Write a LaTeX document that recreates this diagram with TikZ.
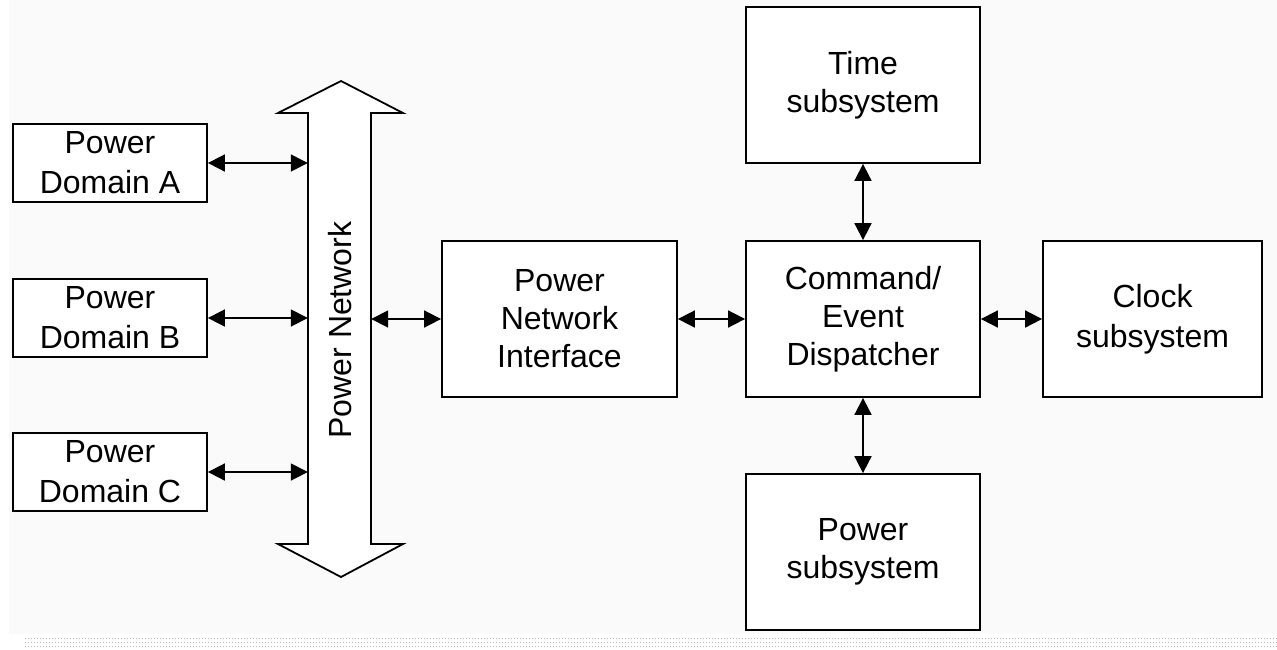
\documentclass[tikz,border=0pt]{standalone}
\usepackage{fontspec}
\setmainfont{Liberation Sans}
\usetikzlibrary{arrows.meta}
\definecolor{panel}{HTML}{FAFAFA}
\begin{document}
\begin{tikzpicture}[x=1pt,y=-1pt,
  block/.style={draw=black,line width=1.8pt,fill=white,rectangle,align=center,
    inner sep=0pt,font=\fontsize{32}{38}\selectfont},
  link/.style={line width=1.8pt,{Triangle[length=17pt,width=17pt]}-{Triangle[length=17pt,width=17pt]}}]
\useasboundingbox (0,0) rectangle (1277,649);
% page background and the dotted strip along the bottom
\fill[white] (0,0) rectangle (1277,649);
\fill[panel] (9,0) rectangle (1277,634);
\foreach \yy in {638,642,646}
  \draw[gray!55,line width=0.9pt,dash pattern=on 1pt off 2pt] (25,\yy) -- (1277,\yy);

% power network bus (double-headed block arrow)
\draw[line width=1.8pt,fill=white,line join=miter]
  (308,113) -- (278,113) -- (341,81) -- (403,113) -- (371,113) -- (371,544)
  -- (403,544) -- (341,577) -- (278,544) -- (308,544) -- cycle;
\node[minimum width=63pt,minimum height=431pt,inner sep=0pt] (pn) at (339.5,328.5) {};
\node[rotate=90,font=\fontsize{32}{38}\selectfont] (pnlabel) at (340,330) {Power Network};

% power domains
\node[block,minimum width=194pt,minimum height=78pt,font=\fontsize{32}{40}\selectfont] (pda) at (110,163) {Power\\Domain A};
\node[block,minimum width=194pt,minimum height=78pt,font=\fontsize{32}{40}\selectfont] (pdb) at (110,318) {Power\\Domain B};
\node[block,minimum width=194pt,minimum height=78pt,font=\fontsize{32}{40}\selectfont] (pdc) at (110,472) {Power\\Domain C};

% central blocks
\node[block,minimum width=235pt,minimum height=156pt] (pni) at (559.5,319) {Power\\Network\\Interface};
\node[block,minimum width=234pt,minimum height=156pt] (ced) at (863,319) {Command/\\Event\\Dispatcher};
\node[block,minimum width=219pt,minimum height=156pt,font=\fontsize{32}{40}\selectfont] (clk) at (1152.5,319) {Clock\\subsystem};
\node[block,minimum width=234pt,minimum height=156pt] (tim) at (863,85) {Time\\subsystem};
\node[block,minimum width=234pt,minimum height=156pt] (pws) at (863,552) {Power\\subsystem};

% connections
\draw[link] (pda.east) -- (pn.west |- pda.east);
\draw[link] (pdb.east) -- (pn.west |- pdb.east);
\draw[link] (pdc.east) -- (pn.west |- pdc.east);
\draw[link] (pn.east |- pni.west) -- (pni.west);
\draw[link] (pni.east) -- (ced.west);
\draw[link] (ced.east) -- (clk.west);
\draw[link] (tim.south) -- (ced.north);
\draw[link] (ced.south) -- (pws.north);
\end{tikzpicture}
\end{document}
